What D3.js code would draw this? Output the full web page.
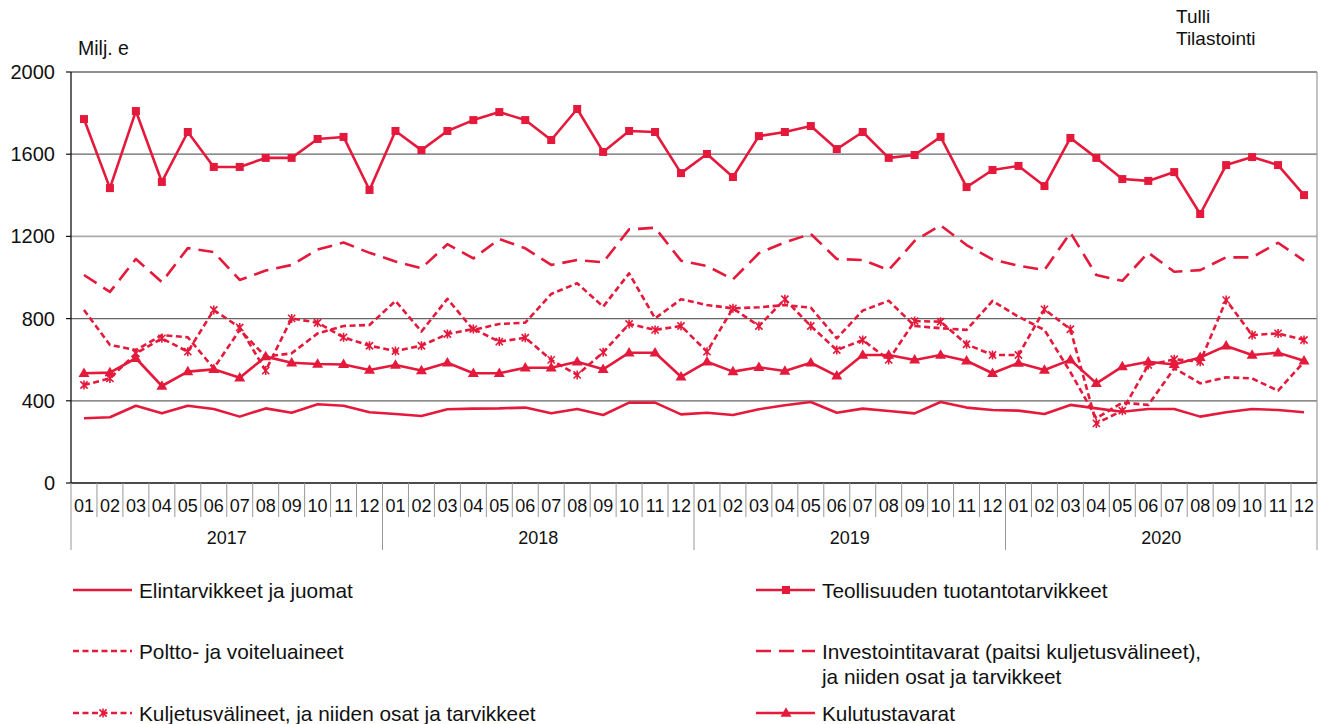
<!DOCTYPE html>
<html>
<head>
<meta charset="utf-8" />
<title>Tuonti käyttötarkoituksen mukaan 2017-2020</title>
<script src="https://cdn.jsdelivr.net/npm/d3@7"></script>
<style>
body { margin: 0; background: #fff; }
text { font-family: "Liberation Sans", Arial, sans-serif; fill: #111; }
</style>
</head>
<body>
<svg id="chart" width="1328" height="724"></svg>
<script>
// categories
const years = ["2017", "2018", "2019", "2020"];
const months = ["01","02","03","04","05","06","07","08","09","10","11","12"];
const yTicks = [0, 400, 800, 1200, 1600, 2000];

// series values, Milj. e, monthly 2017-01 .. 2020-12
const elintarvikkeet = [
	315, 320, 376, 339, 376, 360, 323, 363, 342, 383, 376, 344,
	336, 326, 359, 362, 363, 367, 339, 360, 331, 391, 391, 334,
	342, 331, 359, 378, 394, 342, 362, 350, 339, 394, 367, 355,
	352, 336, 380, 363, 347, 360, 360, 323, 344, 360, 355, 344
];
const teollisuus = [
	1771, 1435, 1810, 1465, 1708, 1538, 1538, 1582, 1582, 1674, 1684, 1426,
	1713, 1620, 1713, 1766, 1805, 1766, 1669, 1820, 1611, 1713, 1708, 1508,
	1601, 1489, 1688, 1708, 1737, 1625, 1708, 1582, 1596, 1684, 1440, 1523,
	1543, 1445, 1679, 1582, 1479, 1470, 1513, 1309, 1547, 1586, 1547, 1401
];
const poltto = [
	842, 672, 647, 720, 709, 558, 745, 615, 631, 728, 764, 769,
	886, 737, 896, 745, 774, 780, 920, 972, 858, 1020, 801, 894,
	866, 850, 855, 866, 853, 704, 839, 887, 764, 753, 745, 886,
	809, 745, 540, 315, 391, 380, 558, 485, 514, 509, 449, 590
];
const investointi = [
	1012, 930, 1090, 978, 1143, 1124, 988, 1034, 1061, 1136, 1170, 1120,
	1078, 1045, 1162, 1093, 1187, 1142, 1061, 1085, 1074, 1234, 1242, 1082,
	1056, 991, 1118, 1171, 1212, 1090, 1085, 1036, 1178, 1254, 1158, 1088,
	1057, 1036, 1218, 1012, 984, 1121, 1028, 1036, 1098, 1098, 1169, 1082
];
const kuljetus = [
	477, 509, 631, 704, 639, 842, 757, 547, 801, 780, 709, 668,
	642, 668, 725, 749, 688, 707, 599, 526, 636, 774, 745, 764,
	639, 850, 764, 894, 764, 647, 696, 599, 788, 785, 675, 623,
	623, 845, 748, 290, 352, 574, 602, 590, 890, 720, 728, 696
];
const kulutus = [
	534, 537, 607, 472, 542, 553, 512, 615, 585, 579, 577, 550,
	574, 547, 585, 534, 534, 561, 561, 590, 553, 634, 634, 517,
	590, 542, 563, 545, 585, 521, 623, 623, 599, 623, 595, 534,
	584, 550, 599, 485, 566, 590, 577, 611, 667, 623, 634, 595
];
const seriesNames = [
	"Elintarvikkeet ja juomat",
	"Teollisuuden tuotantotarvikkeet",
	"Poltto- ja voiteluaineet",
	"Investointitavarat (paitsi kuljetusvälineet),|ja niiden osat ja tarvikkeet",
	"Kuljetusvälineet, ja niiden osat ja tarvikkeet",
	"Kulutustavarat"
];
const seriesValues = [elintarvikkeet, teollisuus, poltto, investointi, kuljetus, kulutus];

// styles for each series (same order as above)
const red = "#e4193b";
const styles = [
	{ dash: null, marker: null },
	{ dash: null, marker: "square" },
	{ dash: "6,3.5", marker: null },
	{ dash: "15,8", marker: null },
	{ dash: "6,3.5", marker: "star" },
	{ dash: null, marker: "triangle" }
];

const svg = d3.select("#chart");
const plotLeft = 71, plotRight = 1317, plotTop = 72, plotBottom = 483;

const keys = [];
years.forEach(yr => months.forEach(m => keys.push(yr + "-" + m)));

let x = d3.scaleBand().domain(keys).range([plotLeft, plotRight]);
let y = d3.scaleLinear().domain([0, 2000]).range([plotBottom, plotTop]);

// grid lines
svg.append("g").selectAll("line")
	.data(yTicks.filter(d => d > 0))
	.enter().append("line")
	.attr("x1", plotLeft).attr("x2", plotRight)
	.attr("y1", d => y(d)).attr("y2", d => y(d))
	.attr("stroke", d => d == 2000 ? "#222" : (d == 1200 ? "#aaa" : "#666"))
	.attr("stroke-width", d => d == 1200 ? 1.6 : 1.2);

// right border
svg.append("line")
	.attr("x1", plotRight).attr("x2", plotRight).attr("y1", plotTop).attr("y2", plotBottom)
	.attr("stroke", "#999").attr("stroke-width", 1.2);

// y axis
svg.append("line")
	.attr("x1", plotLeft).attr("x2", plotLeft).attr("y1", plotTop).attr("y2", plotBottom)
	.attr("stroke", "#111").attr("stroke-width", 1.3);
let yg = svg.append("g");
yg.selectAll("line").data(yTicks).enter().append("line")
	.attr("x1", plotLeft - 5).attr("x2", plotLeft).attr("y1", d => y(d)).attr("y2", d => y(d))
	.attr("stroke", "#111").attr("stroke-width", 1.2);
yg.selectAll("text").data(yTicks).enter().append("text")
	.attr("x", 55).attr("y", d => y(d))
	.attr("text-anchor", "end").attr("dominant-baseline", "central")
	.attr("font-size", 20)
	.text(d => d);

// x axis: month and year rows
svg.append("line")
	.attr("x1", plotLeft).attr("x2", plotRight).attr("y1", plotBottom).attr("y2", plotBottom)
	.attr("stroke", "#111").attr("stroke-width", 1.3);
let xg = svg.append("g");
xg.selectAll("line.m").data(keys).enter().append("line")
	.attr("class", "m")
	.attr("x1", d => x(d)).attr("x2", d => x(d))
	.attr("y1", plotBottom).attr("y2", d => d.endsWith("-01") ? 550 : 517)
	.attr("stroke", "#999").attr("stroke-width", 1);
xg.append("line")
	.attr("x1", plotRight).attr("x2", plotRight).attr("y1", plotBottom).attr("y2", 550)
	.attr("stroke", "#999").attr("stroke-width", 1);
xg.selectAll("text.m").data(keys).enter().append("text")
	.attr("class", "m")
	.attr("x", d => x(d) + x.bandwidth() / 2).attr("y", 506)
	.attr("text-anchor", "middle").attr("dominant-baseline", "central")
	.attr("font-size", 18)
	.text(d => d.split("-")[1]);
xg.selectAll("text.y").data(years).enter().append("text")
	.attr("class", "y")
	.attr("x", d => (x(d + "-01") + x(d + "-12") + x.bandwidth()) / 2).attr("y", 538)
	.attr("text-anchor", "middle").attr("dominant-baseline", "central")
	.attr("font-size", 18)
	.text(d => d);

// titles
svg.append("text").attr("x", 78).attr("y", 55).attr("font-size", 19.5).text("Milj. e");
svg.append("text").attr("x", 1176).attr("y", 23).attr("font-size", 19).text("Tulli");
svg.append("text").attr("x", 1176).attr("y", 44.5).attr("font-size", 19).text("Tilastointi");

// markers
function drawMarker(g, type, cx, cy) {
	if (type == "square") {
		g.append("rect").attr("x", cx - 4).attr("y", cy - 4).attr("width", 8).attr("height", 8)
			.attr("fill", red);
	} else if (type == "triangle") {
		g.append("path").attr("d", d3.symbol(d3.symbolTriangle, 52)())
			.attr("transform", `translate(${cx},${cy + 0.5})`).attr("fill", red);
	} else if (type == "star") {
		let r = 4.5, q = 3.6;
		g.append("path")
			.attr("d", `M0,${-r}L0,${r}M${-q},${-q}L${q},${q}M${-q},${q}L${q},${-q}`)
			.attr("transform", `translate(${cx},${cy})`)
			.attr("stroke", red).attr("stroke-width", 1.6).attr("fill", "none");
	}
}

// lines
let line = d3.line()
	.x((d, i) => x(keys[i]) + x.bandwidth() / 2)
	.y(d => y(d));

let plot = svg.append("g");
seriesValues.forEach((vals, s) => {
	plot.append("path")
		.attr("d", line(vals))
		.attr("fill", "none")
		.attr("stroke", red)
		.attr("stroke-width", 2.6)
		.attr("stroke-linejoin", "round")
		.attr("stroke-dasharray", styles[s].dash);
	if (styles[s].marker) {
		let mg = plot.append("g");
		vals.forEach((v, i) => drawMarker(mg, styles[s].marker, x(keys[i]) + x.bandwidth() / 2, y(v)));
	}
});

// legend
const legendPos = [
	[73, 590], [756, 590],
	[73, 651], [756, 651],
	[73, 713], [756, 713]
];
seriesNames.forEach((name, s) => {
	let lx = legendPos[s][0], ly = legendPos[s][1];
	let g = svg.append("g");
	g.append("line")
		.attr("x1", lx).attr("x2", lx + 59).attr("y1", ly).attr("y2", ly)
		.attr("stroke", red).attr("stroke-width", 2.6)
		.attr("stroke-dasharray", styles[s].dash);
	if (styles[s].marker) drawMarker(g, styles[s].marker, lx + 30, ly);
	name.split("|").forEach((t, k) => {
		g.append("text")
			.attr("x", lx + 66).attr("y", ly + k * 25)
			.attr("dominant-baseline", "central")
			.attr("font-size", 20.8)
			.text(t);
	});
});
</script>
</body>
</html>
